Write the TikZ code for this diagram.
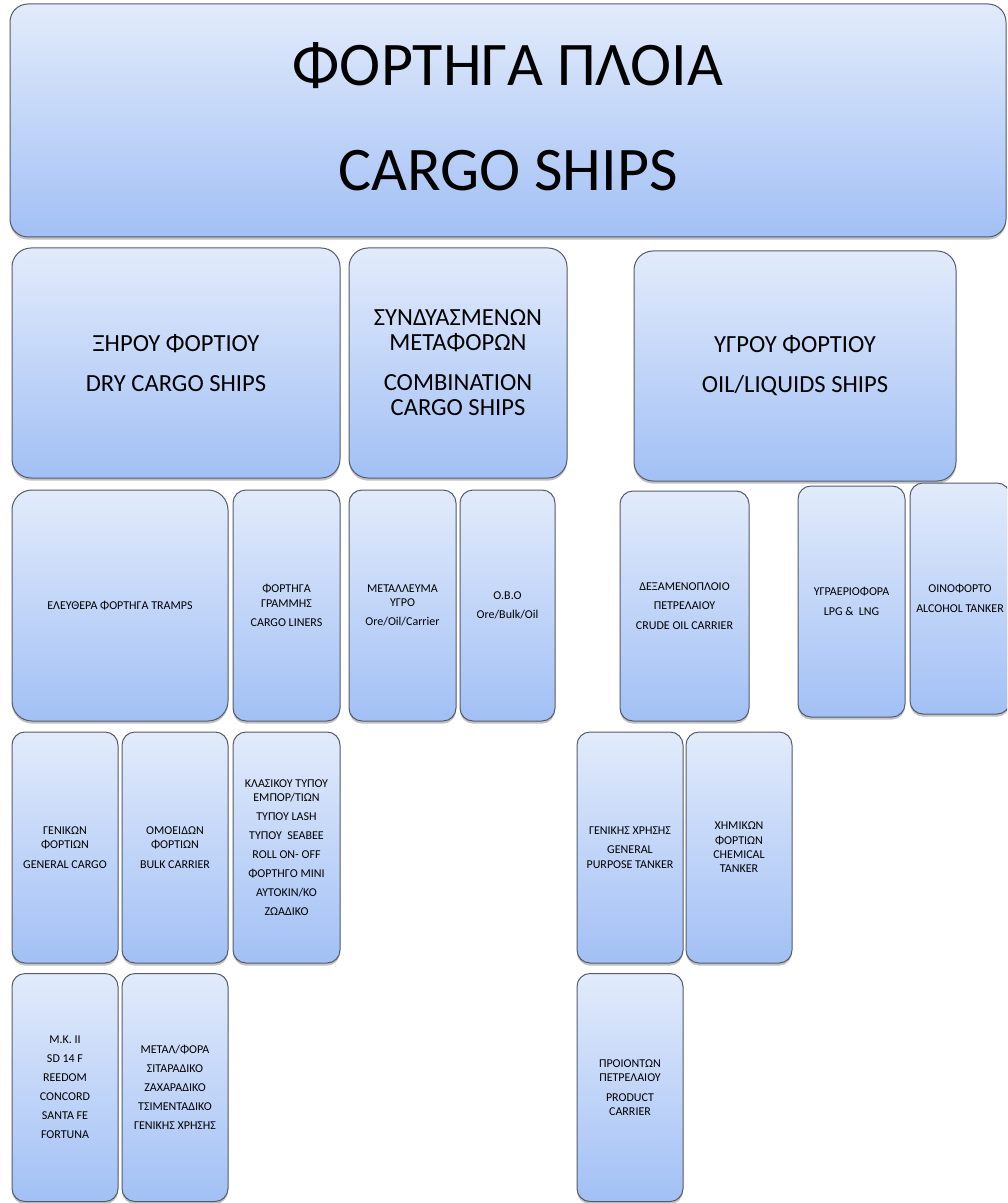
\documentclass[tikz,border=0pt]{standalone}
\usepackage{fontspec}
\setmainfont{Carlito}
\usetikzlibrary{shadows}

\definecolor{boxtop}{RGB}{226,235,251}
\definecolor{boxbottom}{RGB}{162,192,245}
\definecolor{boxline}{RGB}{84,92,108}

\tikzset{
  shipbox/.style={draw=boxline, line width=0.5pt, top color=boxtop, bottom color=boxbottom,
    rounded corners=6.5pt, align=center, inner sep=1pt,
    drop shadow={shadow xshift=0pt, shadow yshift=-1.3pt, opacity=0.35, fill=black!70}},
  titlebox/.style={shipbox, rounded corners=9pt, font=\fontsize{31}{52.5}\selectfont},
  groupbox/.style={shipbox, rounded corners=9.5pt, font=\fontsize{12.3}{12.5}\selectfont},
  typebox/.style={shipbox, font=\fontsize{6}{7.2}\selectfont},
}

\begin{document}
\begin{tikzpicture}[x=0.5pt,y=-0.5pt]
\useasboundingbox (0,0) rectangle (1007,1203);
\clip (0,0) rectangle (1007,1203);

% top
\node[titlebox, minimum width=498pt, minimum height=116.5pt] (cargo) at (508,120.5)
  {\raisebox{4pt}{ΦΟΡΤΗΓΑ ΠΛΟΙΑ}\\\raisebox{4pt}{CARGO SHIPS}};

% main groups
\node[groupbox, minimum width=164pt, minimum height=115pt] (dry) at (176,363)
  {ΞΗΡΟΥ ΦΟΡΤΙΟΥ\\[7.5pt]DRY CARGO SHIPS};
\node[groupbox, minimum width=109pt, minimum height=115pt] (comb) at (458,363)
  {ΣΥΝΔΥΑΣΜΕΝΩΝ\\ΜΕΤΑΦΟΡΩΝ\\[7.5pt]COMBINATION\\CARGO SHIPS};
\node[groupbox, minimum width=161pt, minimum height=115pt] (liquid) at (795,366)
  {ΥΓΡΟΥ ΦΟΡΤΙΟΥ\\[7.5pt]OIL/LIQUIDS SHIPS};

% second level
\node[typebox, rounded corners=10pt, minimum width=108pt, minimum height=115.5pt] (tramps) at (120,605.5)
  {ΕΛΕΥΘΕΡΑ ΦΟΡΤΗΓΑ TRAMPS};
\node[typebox, minimum width=53.5pt, minimum height=115.5pt] (liners) at (286.5,605.5)
  {ΦΟΡΤΗΓΑ\\ΓΡΑΜΜΗΣ\\[2.5pt]CARGO LINERS};
\node[typebox, minimum width=53.5pt, minimum height=115.5pt] (oreoil) at (402.5,605.5)
  {ΜΕΤΑΛΛΕΥΜΑ\\ΥΓΡΟ\\[2.5pt]Ore/Oil/Carrier};
\node[typebox, minimum width=47.5pt, minimum height=115.5pt] (obo) at (507.5,605.5)
  {Ο.Β.Ο\\[2.5pt]Ore/Bulk/Oil};
\node[typebox, minimum width=64.5pt, minimum height=115pt] (crude) at (684.5,606)
  {ΔΕΞΑΜΕΝΟΠΛΟΙΟ\\[2.5pt]ΠΕΤΡΕΛΑΙΟΥ\\[2.5pt]CRUDE OIL CARRIER};
\node[typebox, minimum width=53.5pt, minimum height=115.5pt] (lpg) at (851.5,601.5)
  {ΥΓΡΑΕΡΙΟΦΟΡΑ\\[2.5pt]LPG \&\ \ LNG};
\node[typebox, minimum width=50pt, minimum height=115.5pt] (alcohol) at (960,598.5)
  {ΟΙΝΟΦΟΡΤΟ\\[2.5pt]\makebox[44pt]{ALCOHOL TANKER}};

% third level
\node[typebox, minimum width=53pt, minimum height=115.5pt] (general) at (65,847.5)
  {ΓΕΝΙΚΩΝ\\ΦΟΡΤΙΩΝ\\[2.5pt]GENERAL CARGO};
\node[typebox, minimum width=53pt, minimum height=115.5pt] (bulk) at (175,847.5)
  {ΟΜΟΕΙΔΩΝ\\ΦΟΡΤΙΩΝ\\[2.5pt]BULK CARRIER};
\node[typebox, minimum width=53.5pt, minimum height=115.5pt] (classic) at (286.5,847.5)
  {ΚΛΑΣΙΚΟΥ ΤΥΠΟΥ\\ΕΜΠΟΡ/ΤΙΩΝ\\[2.3pt]ΤΥΠΟΥ LASH\\[2.3pt]ΤΥΠΟΥ\ \ SEABEE\\[2.3pt]ROLL ON- OFF\\[2.3pt]ΦΟΡΤΗΓΟ MINI\\[2.3pt]ΑΥΤΟΚΙΝ/ΚΟ\\[2.3pt]ΖΩΑΔΙΚΟ};
\node[typebox, minimum width=53pt, minimum height=115.5pt] (gptanker) at (630,847.5)
  {ΓΕΝΙΚΗΣ ΧΡΗΣΗΣ\\[2.5pt]GENERAL\\PURPOSE TANKER};
\node[typebox, minimum width=53pt, minimum height=115.5pt] (chemical) at (739,847.5)
  {ΧΗΜΙΚΩΝ\\ΦΟΡΤΙΩΝ\\CHEMICAL\\TANKER};

% fourth level
\node[typebox, minimum width=53pt, minimum height=114pt] (mkii) at (65,1087.5)
  {Μ.Κ. II\\[2.3pt]SD 14 F\\[2.3pt]REEDOM\\[2.3pt]CONCORD\\[2.3pt]SANTA FE\\[2.3pt]FORTUNA};
\node[typebox, minimum width=53pt, minimum height=114pt] (metal) at (175,1087.5)
  {ΜΕΤΑΛ/ΦΟΡΑ\\[2.3pt]ΣΙΤΑΡΑΔΙΚΟ\\[2.3pt]ΖΑΧΑΡΑΔΙΚΟ\\[2.3pt]ΤΣΙΜΕΝΤΑΔΙΚΟ\\[2.3pt]ΓΕΝΙΚΗΣ ΧΡΗΣΗΣ};
\node[typebox, minimum width=53pt, minimum height=114pt] (product) at (630,1087.5)
  {ΠΡΟΙΟΝΤΩΝ\\ΠΕΤΡΕΛΑΙΟΥ\\[2.5pt]PRODUCT\\CARRIER};
\end{tikzpicture}
\end{document}
